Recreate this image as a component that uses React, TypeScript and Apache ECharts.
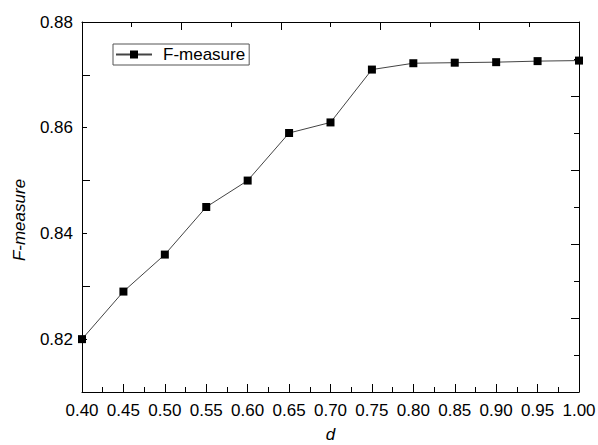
import React, { useEffect, useRef } from "react";
import * as echarts from "echarts";

const dValues = [0.4, 0.45, 0.5, 0.55, 0.6, 0.65, 0.7, 0.75, 0.8, 0.85, 0.9, 0.95, 1.0];
const fMeasure = [0.82, 0.829, 0.836, 0.845, 0.85, 0.859, 0.861, 0.871, 0.8722, 0.8723, 0.8724, 0.8726, 0.8727];
const seriesName = "F-measure";
const xName = "d";
const yName = "F-measure";

const FONT = "Liberation Sans";
const FS = 17;

export default function App() {
  const ref = useRef<HTMLDivElement>(null);
  useEffect(() => {
    if (!ref.current) return;
    const chart = echarts.init(ref.current, null, { renderer: "svg" });
    const lineStyle = { color: "#000", width: 1 };
    chart.setOption({
      animation: false,
      backgroundColor: "#fff",
      textStyle: { fontFamily: FONT },
      grid: {
        left: 82,
        right: 19,
        top: 22,
        bottom: 53,
        containLabel: false,
        outerBoundsMode: "none",
      },
      legend: {
        left: 113,
        top: 44,
        data: [seriesName],
        borderColor: "#555",
        borderWidth: 1,
        padding: [2, 4, 2, 2],
        itemWidth: 36,
        itemHeight: 10,
        itemGap: 4,
        textStyle: { fontFamily: FONT, fontSize: FS, color: "#000", padding: [0, 0, 0, 6] },
      },
      xAxis: [
        {
          type: "value",
          position: "bottom",
          min: 0.4,
          max: 1.0,
          interval: 0.05,
          name: xName,
          nameLocation: "middle",
          nameGap: 34,
          nameTextStyle: { fontFamily: FONT, fontSize: FS, fontStyle: "italic", color: "#000" },
          axisLine: { show: true, lineStyle },
          axisTick: { show: true, inside: true, length: 8, lineStyle },
          minorTick: { show: true, splitNumber: 2, length: 5, lineStyle },
          axisLabel: {
            fontFamily: FONT,
            fontSize: FS,
            color: "#000",
            margin: 10,
            formatter: (v: number) => v.toFixed(2),
          },
          splitLine: { show: false },
          minorSplitLine: { show: false },
        },
        {
          type: "value",
          position: "top",
          min: 0,
          max: 10,
          interval: 2,
          axisLine: { show: true, lineStyle },
          axisTick: { show: true, inside: true, length: 8, lineStyle },
          minorTick: { show: true, splitNumber: 2, length: 5, lineStyle },
          axisLabel: { show: false },
          splitLine: { show: false },
        },
      ],
      yAxis: [
        {
          type: "value",
          position: "left",
          min: 0.81,
          max: 0.88,
          interval: 0.01,
          name: yName,
          nameLocation: "middle",
          nameGap: 54,
          nameTextStyle: {
            fontFamily: FONT,
            fontSize: FS,
            fontStyle: "italic",
            color: "#000",
            padding: [0, 26, 0, 0],
          },
          axisLine: { show: true, lineStyle },
          axisTick: { show: true, inside: true, length: 5, lineStyle },
          axisLabel: {
            fontFamily: FONT,
            fontSize: FS,
            color: "#000",
            margin: 9,
            formatter: (v: number) => (Math.round(v * 100) % 2 === 0 ? v.toFixed(2) : ""),
          },
          splitLine: { show: false },
        },
        {
          type: "value",
          position: "left",
          min: 0.81,
          max: 0.88,
          interval: 0.02,
          axisLine: { show: false },
          axisTick: { show: true, inside: true, length: 8, lineStyle },
          axisLabel: { show: false },
          splitLine: { show: false },
        },
        {
          type: "value",
          position: "right",
          min: 0,
          max: 10,
          interval: 2,
          axisLine: { show: true, lineStyle },
          axisTick: { show: true, inside: true, length: 8, lineStyle },
          minorTick: { show: true, splitNumber: 2, length: 5, lineStyle },
          axisLabel: { show: false },
          splitLine: { show: false },
        },
      ],
      series: [
        {
          name: seriesName,
          type: "line",
          xAxisIndex: 0,
          yAxisIndex: 0,
          data: dValues.map((d, i) => [d, fMeasure[i]]),
          symbol: "rect",
          symbolSize: 8,
          itemStyle: { color: "#000" },
          lineStyle: { color: "#444", width: 1 },
          clip: false,
        },
      ],
    });
    return () => chart.dispose();
  }, []);
  return (
    <div
      ref={ref}
      style={{ position: "fixed", left: 0, top: 0, width: 598, height: 445 }}
    />
  );
}
